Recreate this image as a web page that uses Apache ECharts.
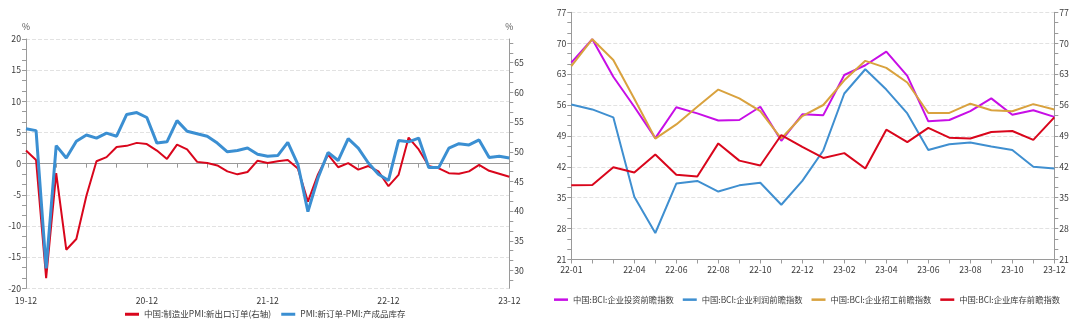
<!DOCTYPE html>
<html><head><meta charset="utf-8">
<script src="https://cdn.jsdelivr.net/npm/echarts@6/dist/echarts.min.js"></script>
<style>html,body{margin:0;padding:0;background:#fff}#c{width:1080px;height:329px}</style>
</head><body><div id="c"></div>
<script>
// ---------- Left chart data ----------
const monthsA = ['19-12','20-01','20-02','20-03','20-04','20-05','20-06','20-07','20-08','20-09','20-10','20-11',
  '20-12','21-01','21-02','21-03','21-04','21-05','21-06','21-07','21-08','21-09','21-10','21-11',
  '21-12','22-01','22-02','22-03','22-04','22-05','22-06','22-07','22-08','22-09','22-10','22-11',
  '22-12','23-01','23-02','23-03','23-04','23-05','23-06','23-07','23-08','23-09','23-10','23-11','23-12'];
const pmiExportOrders = [50.2,48.6,28.7,46.4,33.5,35.3,42.6,48.4,49.1,50.8,51.0,51.5,
  51.3,50.2,48.8,51.2,50.4,48.3,48.1,47.7,46.7,46.2,46.6,48.5,
  48.1,48.4,48.6,47.2,41.6,46.2,49.5,47.4,48.1,47.0,47.6,46.7,
  44.2,46.1,52.4,50.4,47.6,47.2,46.4,46.3,46.7,47.8,46.8,46.3,45.8];
const pmiOrdersMinusInventory = [5.6,5.3,-16.8,2.9,0.9,3.6,4.6,4.1,4.9,4.4,7.9,8.2,
  7.4,3.3,3.5,6.9,5.2,4.8,4.4,3.3,1.9,2.1,2.5,1.5,
  1.2,1.3,3.4,-0.1,-7.7,-2.3,1.8,0.5,4.0,2.5,0.1,-1.7,
  -2.7,3.7,3.5,4.1,-0.6,-0.6,2.5,3.2,3.0,3.8,1.0,1.2,0.9];
const rightAxisLabelsA = [30,35,40,45,50,55,60,65];

// ---------- Right chart data ----------
const monthsB = ['22-01','22-02','22-03','22-04','22-05','22-06','22-07','22-08','22-09','22-10','22-11','22-12',
  '23-01','23-02','23-03','23-04','23-05','23-06','23-07','23-08','23-09','23-10','23-11','23-12'];
const bciInvest = [65.6,70.9,62.4,55.6,48.5,55.5,54.1,52.5,52.6,55.6,47.9,53.9,
  53.7,62.8,65.0,68.1,62.6,52.3,52.6,54.6,57.5,53.8,54.8,53.3];
const bciProfit = [56.1,55.0,53.2,35.2,27.0,38.2,38.8,36.4,37.8,38.4,33.4,38.8,
  45.7,58.6,64.1,59.5,54.1,45.8,47.1,47.5,46.6,45.8,42.0,41.6];
const bciHiring = [64.8,70.9,66.2,57.4,48.4,51.6,55.6,59.5,57.5,54.6,48.4,53.5,
  56.0,61.6,66.0,64.4,61.1,54.2,54.2,56.3,54.8,54.6,56.2,55.0];
const bciInventory = [37.8,37.9,41.9,40.7,44.8,40.2,39.8,47.3,43.4,42.3,49.2,46.5,
  44.0,45.1,41.6,50.4,47.6,50.8,48.6,48.4,49.9,50.1,48.1,53.2];

const NAMES = {
  exp: '中国:制造业PMI:新出口订单(右轴)',
  spread: 'PMI:新订单-PMI:产成品库存',
  inv: '中国:BCI:企业投资前瞻指数',
  prof: '中国:BCI:企业利润前瞻指数',
  hire: '中国:BCI:企业招工前瞻指数',
  stock: '中国:BCI:企业库存前瞻指数'
};

const FONT = '"Noto Sans CJK SC", "Noto Sans", sans-serif';
const FS = 8.7;
const AX = '#9a9a9a';
const LBL = '#3a3a3a';

// tick values for the right axis of left chart (major + 2 minor between)
const rightTicksA = [];
[25].concat(rightAxisLabelsA, [70]).forEach(v => { rightTicksA.push(v, v + 5/3, v + 10/3); });
const rightTicksAIn = rightTicksA.filter(v => v >= 27 && v <= 69).map(v => Math.round(v*1000)/1000);

function valAxis(extra) {
  return Object.assign({
    type: 'value',
    axisLine: {show: true, lineStyle: {color: AX, width: 1}},
    axisTick: {show: true, length: 4, lineStyle: {color: AX}},
    minorTick: {show: true, splitNumber: 3, length: 4, lineStyle: {color: AX}},
    axisLabel: {fontSize: FS, color: LBL, fontFamily: FONT, margin: 5},
    splitLine: {show: true, lineStyle: {type: 'dashed', color: '#e2e2e2'}},
    nameTextStyle: {fontSize: FS, color: '#555', fontFamily: FONT}
  }, extra);
}

const chart = echarts.init(document.getElementById('c'), null, {renderer: 'canvas'});
chart.setOption({
  animation: false,
  backgroundColor: '#fff',
  textStyle: {fontFamily: FONT},
  grid: [
    {left: 26, right: 570.7, top: 39, bottom: 40.7, containLabel: false, outerBoundsMode: 'none'},
    {left: 571.3, right: 25.7, top: 12.3, bottom: 69.5, containLabel: false, outerBoundsMode: 'none'}
  ],
  legend: [
    {data: [NAMES.exp, NAMES.spread], left: 125, top: 310, padding: 0, icon: 'rect',
     itemWidth: 14, itemHeight: 3, itemGap: 10,
     textStyle: {fontSize: 8.5, color: LBL, fontFamily: FONT}},
    {data: [NAMES.inv, NAMES.prof, NAMES.hire, NAMES.stock], left: 554, top: 295.5, padding: 0, icon: 'rect',
     itemWidth: 14, itemHeight: 2.5, itemGap: 9, width: 526,
     textStyle: {fontSize: 8.3, color: LBL, fontFamily: FONT}}
  ],
  xAxis: [
    {type: 'category', gridIndex: 0, data: monthsA, boundaryGap: false,
     axisLine: {show: true, lineStyle: {color: AX}},
     axisTick: {show: true, interval: 2, length: 4, lineStyle: {color: AX}},
     axisLabel: {interval: 11, fontSize: FS, color: LBL, fontFamily: FONT, margin: 8},
     splitLine: {show: false}},
    {type: 'category', gridIndex: 1, data: monthsB, boundaryGap: false,
     axisLine: {show: true, lineStyle: {color: AX}},
     axisTick: {show: true, interval: 0, length: 4, lineStyle: {color: AX}},
     axisLabel: {interval: (i) => i === 0 || (i % 2 === 1 && i !== 1), showMinLabel: true,
       fontSize: FS, color: LBL, fontFamily: FONT, margin: 6},
     splitLine: {show: false}}
  ],
  yAxis: [
    valAxis({gridIndex: 0, position: 'left', min: -20, max: 20, interval: 5,
      name: '%', nameLocation: 'end', nameGap: 8}),
    valAxis({gridIndex: 0, position: 'right', min: 27, max: 69,
      name: '%', nameLocation: 'end', nameGap: 8,
      axisTick: {show: true, length: 4, lineStyle: {color: AX}, customValues: rightTicksAIn},
      minorTick: {show: false},
      axisLabel: {fontSize: FS, color: LBL, fontFamily: FONT, margin: 5, customValues: rightAxisLabelsA},
      splitLine: {show: false}}),
    valAxis({gridIndex: 1, position: 'left', min: 21, max: 77, interval: 7}),
    valAxis({gridIndex: 1, position: 'right', min: 21, max: 77, interval: 7, splitLine: {show: false}})
  ],
  series: [
    {name: NAMES.exp, type: 'line', xAxisIndex: 0, yAxisIndex: 1, data: pmiExportOrders,
     showSymbol: false, symbol: 'none', color: '#d9061c', lineStyle: {width: 2, color: '#d9061c'}},
    {name: NAMES.spread, type: 'line', xAxisIndex: 0, yAxisIndex: 0, data: pmiOrdersMinusInventory,
     showSymbol: false, symbol: 'none', color: '#3b8fd2', lineStyle: {width: 3, color: '#3b8fd2'}},
    {name: NAMES.inv, type: 'line', xAxisIndex: 1, yAxisIndex: 2, data: bciInvest,
     showSymbol: false, symbol: 'none', color: '#c70ee6', lineStyle: {width: 2, color: '#c70ee6'}},
    {name: NAMES.prof, type: 'line', xAxisIndex: 1, yAxisIndex: 2, data: bciProfit,
     showSymbol: false, symbol: 'none', color: '#3f8fd0', lineStyle: {width: 2, color: '#3f8fd0'}},
    {name: NAMES.hire, type: 'line', xAxisIndex: 1, yAxisIndex: 2, data: bciHiring,
     showSymbol: false, symbol: 'none', color: '#d9a23e', lineStyle: {width: 2, color: '#d9a23e'}},
    {name: NAMES.stock, type: 'line', xAxisIndex: 1, yAxisIndex: 2, data: bciInventory,
     showSymbol: false, symbol: 'none', color: '#d9061c', lineStyle: {width: 2, color: '#d9061c'}}
  ]
});
</script>
</body></html>
